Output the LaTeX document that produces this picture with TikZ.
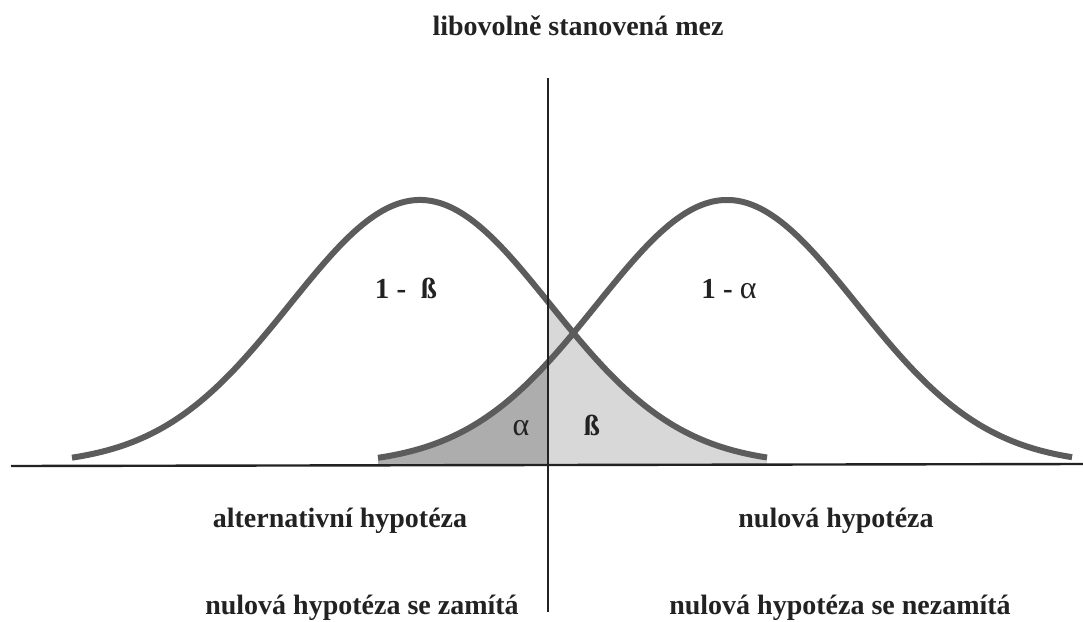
\documentclass[tikz,border=0pt]{standalone}
\usepackage{fontspec}
\setmainfont{Liberation Serif}
\usepackage{xcolor}
\definecolor{plotInk}{HTML}{222222}
\definecolor{curveGray}{HTML}{5C5C5C}
\definecolor{alphaShade}{HTML}{ADADAD}
\definecolor{betaShade}{HTML}{D8D8D8}
\usepackage{tikz}
\tikzset{
  every picture/.append style={font=\rmfamily},
  bellcurve/.style={draw=curveGray,line width=6pt},
  axisline/.style={draw=plotInk,line width=2.4pt},
  limitline/.style={draw=plotInk,line width=1.6pt},
  caption/.style={text=plotInk,anchor=base,inner sep=0pt,font=\fontsize{28}{32}\selectfont\bfseries},
  arealabel/.style={text=plotInk,anchor=base,inner sep=0pt,font=\fontsize{29}{33}\selectfont\bfseries},
  greeklabel/.style={text=plotInk,anchor=base,inner sep=0pt,font=\fontsize{32}{36}\selectfont},
}

\begin{document}
\begin{tikzpicture}[x=1pt,y=-1pt,
  declare function={
    altcurve(\t)=465-265*exp(-0.5*((\t-420)/130)*((\t-420)/130));
    nullcurve(\t)=465-265*exp(-0.5*((\t-727)/130)*((\t-727)/130));
  }]
  \useasboundingbox (0,0) rectangle (1083,621);

  % shaded tails
  \fill[alphaShade] (378,465) -- plot[domain=378:548,samples=60] (\x,{nullcurve(\x)}) -- (548,465) -- cycle;
  \fill[betaShade] (548,465) -- plot[domain=548:767,samples=60] (\x,{altcurve(\x)}) -- (767,465) -- cycle;

  % the two distributions
  \draw[bellcurve] plot[domain=72:767,samples=140,smooth] (\x,{altcurve(\x)});
  \draw[bellcurve] plot[domain=378:1072,samples=140,smooth] (\x,{nullcurve(\x)});

  % axis and limit
  \coordinate (axisL) at (11,466);
  \coordinate (axisR) at (1083,464);
  \coordinate (limTop) at (548,78);
  \coordinate (limBot) at (548,612);
  \draw[axisline] (axisL) -- (axisR);
  \draw[limitline] (limTop) -- (limBot);

  \node[caption] (limit) at (578,35) {libovolně stanovená mez};

  \node[arealabel] (power) at (406,298) {1 -\enspace ß};
  \node[arealabel] (conf) at (729,298) {1 - {\mdseries\fontsize{32}{36}\selectfont α}};
  \node[greeklabel] (alpha) at (521,435) {α};
  \node[arealabel] (beta) at (592,435) {ß};

  \node[caption] (altH) at (340,527) {alternativní hypotéza};
  \node[caption] (nullH) at (836,527) {nulová hypotéza};
  \node[caption] (reject) at (362,614) {nulová hypotéza se zamítá};
  \node[caption] (keep) at (840,614) {nulová hypotéza se nezamítá};
\end{tikzpicture}
\end{document}
